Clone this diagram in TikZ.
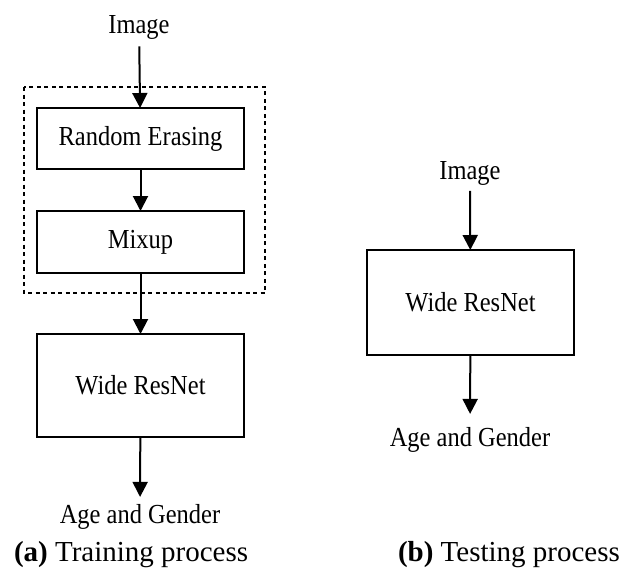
\documentclass[tikz,border=0pt]{standalone}
\usepackage{fontspec}
\setmainfont{Liberation Serif}
\newfontfamily\lblfont[FakeStretch=0.89]{Liberation Serif}
\usetikzlibrary{arrows.meta}
\begin{document}
\begin{tikzpicture}[x=1pt,y=-1pt,
  every node/.style={inner sep=0pt,outer sep=0pt,font=\lblfont\fontsize{27.5}{32}\selectfont},
  blockbox/.style={draw,line width=2pt,minimum width=207pt},
  flow/.style={line width=2pt,-{Triangle[length=15pt,width=15pt]}},
  caption/.style={font=\rmfamily\fontsize{29}{34}\selectfont,anchor=base west}]
  \useasboundingbox (0,0) rectangle (639,570);

  % (a) training pipeline
  \node[anchor=base] (imgA) at (139,33.5) {Image};
  \draw[line width=1.6pt,dash pattern=on 4pt off 3.5pt] (24,87) rectangle (265,293);
  \node[blockbox,minimum height=61pt] (erase) at (140.5,138.5) {Random Erasing};
  \node[blockbox,minimum height=62pt] (mix) at (140.5,242) {Mixup};
  \node[blockbox,minimum height=103pt] (wrnA) at (140.5,385.5) {Wide ResNet};
  \node[anchor=base] (outA) at (140,523) {Age and Gender};
  \draw[flow,shorten <=7pt] (imgA) -- (erase);
  \draw[flow] (erase) -- (mix);
  \draw[flow] (mix) -- (wrnA);
  \draw[flow,shorten >=7pt] (wrnA) -- (outA);
  \node[caption] (capA) at (14,561) {\textbf{(a)} Training process};

  % (b) testing pipeline
  \node[anchor=base] (imgB) at (470,179) {Image};
  \node[blockbox,minimum height=105pt] (wrnB) at (470.5,302.5) {Wide ResNet};
  \node[anchor=base] (outB) at (470,446) {Age and Gender};
  \draw[flow,shorten <=6pt] (imgB) -- (wrnB);
  \draw[flow,shorten >=13pt] (wrnB) -- (outB);
  \node[caption] (capB) at (398,561) {\textbf{(b)} Testing process};
\end{tikzpicture}
\end{document}
